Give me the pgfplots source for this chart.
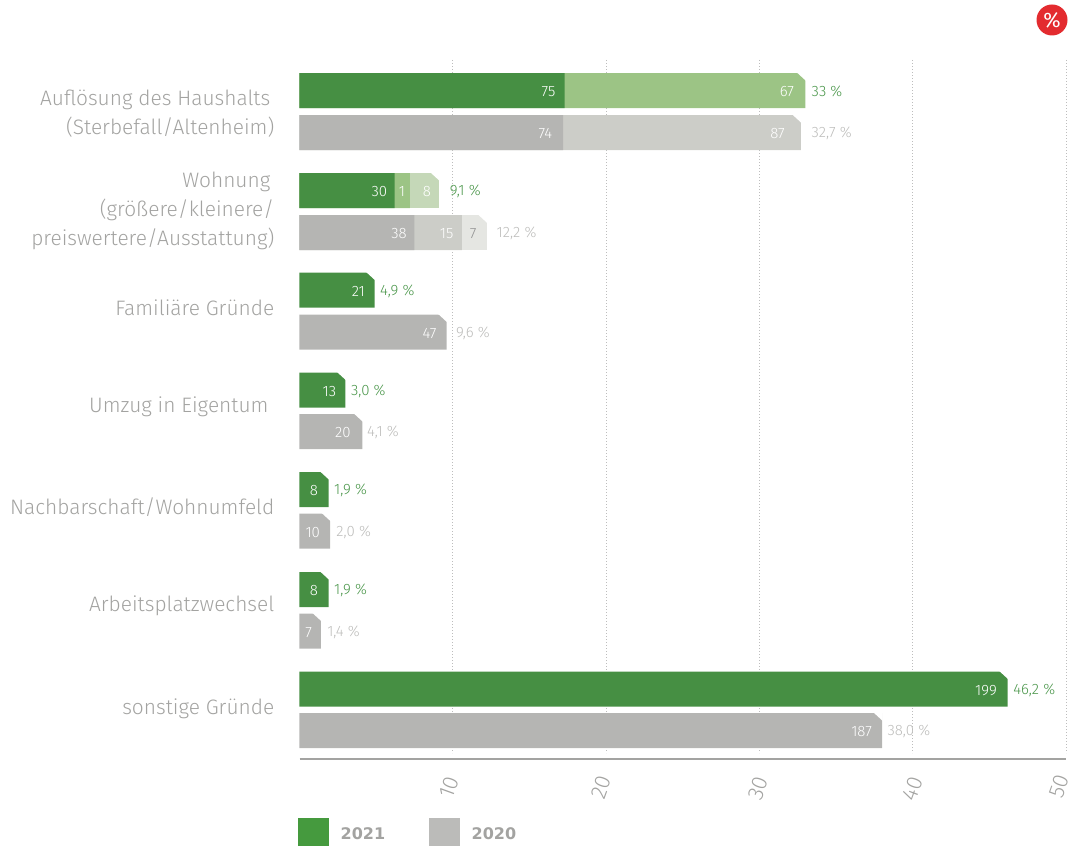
\documentclass[border=0pt]{standalone}
\usepackage{fontspec}
\setmainfont{Fira Sans Light}
\newfontfamily\legendfont{DejaVu Sans Bold}
\newfontfamily\badgefont{Fira Sans}
\usepackage{pgfplots}
\pgfplotsset{compat=1.18}

\definecolor{greenA}{HTML}{468F43}
\definecolor{greenB}{HTML}{9CC485}
\definecolor{greenC}{HTML}{C5D8B8}
\definecolor{grayA}{HTML}{B5B5B3}
\definecolor{grayB}{HTML}{CCCDC8}
\definecolor{grayC}{HTML}{E5E6E2}
\definecolor{textgray}{HTML}{A3A3A1}
\definecolor{pctgreen}{HTML}{4A964A}
\definecolor{pctgray}{HTML}{BDBDBB}
\definecolor{gridgray}{HTML}{BDBDBD}
\definecolor{badgered}{HTML}{E32B2F}
\definecolor{keygreen}{HTML}{459A3E}
\definecolor{keygray}{HTML}{BBBBB9}

% Cut corner at the end of a bar: the mark sits on the bar's end point
\pgfdeclareplotmark{chamfer}{%
  \pgfpathmoveto{\pgfqpoint{-8.5pt}{18pt}}%
  \pgfpathlineto{\pgfqpoint{0.6pt}{18pt}}%
  \pgfpathlineto{\pgfqpoint{0.6pt}{9.6pt}}%
  \pgfpathlineto{\pgfqpoint{0pt}{10.2pt}}%
  \pgfpathclose
  \pgfusepathqfill}

% Slanted tick number with its own offset across the text direction
\newcommand{\slantnum}[2]{\raisebox{#1pt}[0pt][0pt]{#2}}

\begin{document}
\begin{tikzpicture}
\path[use as bounding box] (0pt,0pt) rectangle (1069pt,846pt);

\begin{axis}[
  at={(299.5pt,93pt)}, anchor=south west,
  scale only axis, width=766.5pt, height=693pt,
  xmin=0, xmax=50, ymin=60, ymax=753,
  y dir=reverse, clip=false,
  axis line style={draw=none}, tick style={draw=none}, major tick length=0pt,
  xtick={10,20,30,40,50},
  xticklabels={\slantnum{-3.2}{10},\slantnum{-2.2}{20},\slantnum{-5.9}{30},
    \slantnum{-7.5}{40},\slantnum{0}{50}},
  xmajorgrids, grid style={gridgray, line width=1pt, dash pattern=on 1pt off 2pt},
  xticklabel style={yshift=-35.7pt, rotate=70, anchor=center,
    inner sep=0pt, text=textgray, font=\fontsize{22}{22}\selectfont},
  ytick={114,211,308,407,507,606,709},
  yticklabels={
    {Auflösung des Haushalts\kern4pt\\(Sterbefall/Altenheim)},
    {Wohnung\kern4pt\\(größere/kleinere/\\preiswertere/Ausstattung)},
    {Familiäre Gründe},
    {Umzug in Eigentum~},
    {Nachbarschaft/Wohnumfeld},
    {Arbeitsplatzwechsel},
    {sonstige Gründe}},
  yticklabel style={align=right, anchor=east, inner sep=0pt, text=textgray,
    font=\fontsize{20.9}{29}\selectfont, xshift=-25pt},
  barA/.style={xbar, bar shift=0pt, bar width=35pt, draw=none, fill=#1},
  chamfers/.style={only marks, mark=chamfer, mark options={fill=white, draw=none}},
  values/.style 2 args={draw=none, mark=none, point meta=explicit symbolic,
    nodes near coords,
    every node near coord/.append style={anchor=#1, inner sep=0pt, yshift=-1.2pt,
      text=#2, font=\fontsize{15}{15}\selectfont}},
]
% Bars are drawn as running totals, longest segment first
\addplot[barA=grayC] coordinates {(12.2,232.5)};
\addplot[barA=greenC] coordinates {(9.1,190.5)};
\addplot[barA=grayB] coordinates {(32.7,132.5) (10.6,232.5)};
\addplot[barA=greenB] coordinates {(33,90.5) (7.2,190.5)};
\addplot[barA=grayA] coordinates {
  (17.2,132.5) (7.5,232.5) (9.6,332) (4.1,431.5) (2.0,531) (1.4,631) (38.0,730.5)};
\addplot[barA=greenA] coordinates {
  (17.3,90.5) (6.2,190.5) (4.9,290) (3.0,390) (1.9,489.5) (1.9,589.5) (46.2,689)};

% Cut corners on the end of each full bar
\addplot[chamfers] coordinates {
  (33,90.5) (32.7,132.5) (9.1,190.5) (12.2,232.5) (4.9,290) (9.6,332) (3.0,390)
  (4.1,431.5) (1.9,489.5) (2.0,531) (1.9,589.5) (1.4,631) (46.2,689) (38.0,730.5)};

% Counts inside the bars
\addplot[values={east}{white}] coordinates {
  (16.7,90.5)[75] (16.5,132.5)[74] (32.26,90.5)[67] (31.67,132.5)[87]
  (5.73,190.5)[30] (6.9,190.5)[1] (8.58,190.5)[8]
  (7.0,232.5)[38] (10.05,232.5)[15]
  (4.27,290)[21] (8.95,332)[47] (2.4,390)[13] (3.35,431.5)[20]
  (1.22,489.5)[8] (1.35,531)[10] (1.22,589.5)[8] (0.82,631)[7]
  (45.5,689)[199] (37.35,730.5)[187]};
\addplot[values={east}{gray!85!white}] coordinates {(11.55,232.5)[7]};

% Shares beside the bars
\addplot[values={west}{pctgreen}] coordinates {
  (33.4,90.5)[33~\%] (9.8,190.5)[9,1~\%] (5.25,290)[4,9~\%] (3.35,390)[3,0~\%]
  (2.25,489.5)[1,9~\%] (2.25,589.5)[1,9~\%] (46.55,689)[46,2~\%]};
\addplot[values={west}{pctgray}] coordinates {
  (33.4,132.5)[32,7~\%] (12.85,232.5)[12,2~\%] (10.2,332)[9,6~\%] (4.4,431.5)[4,1~\%]
  (2.4,531)[2,0~\%] (1.8,631)[1,4~\%] (38.35,730.5)[38,0~\%]};
\end{axis}

% Baseline of the value axis
\draw[textgray, line width=1.2pt] (299.5pt,87pt) -- (1066pt,87pt);

% Unit badge
\node[circle, fill=badgered, minimum size=31pt, inner sep=0pt,
  text=white, font=\badgefont\fontsize{21}{21}\selectfont] at (1052pt,826pt) {\%};

% Legend
\fill[keygreen] (298pt,0pt) rectangle (329pt,28pt);
\fill[keygray] (429pt,0pt) rectangle (460pt,28pt);
\node[anchor=base west, inner sep=0pt, text=textgray, font=\legendfont\fontsize{16}{16}\selectfont]
  at (340.5pt,6pt) {2021};
\node[anchor=base west, inner sep=0pt, text=textgray, font=\legendfont\fontsize{16}{16}\selectfont]
  at (471.5pt,6pt) {2020};
\end{tikzpicture}
\end{document}
